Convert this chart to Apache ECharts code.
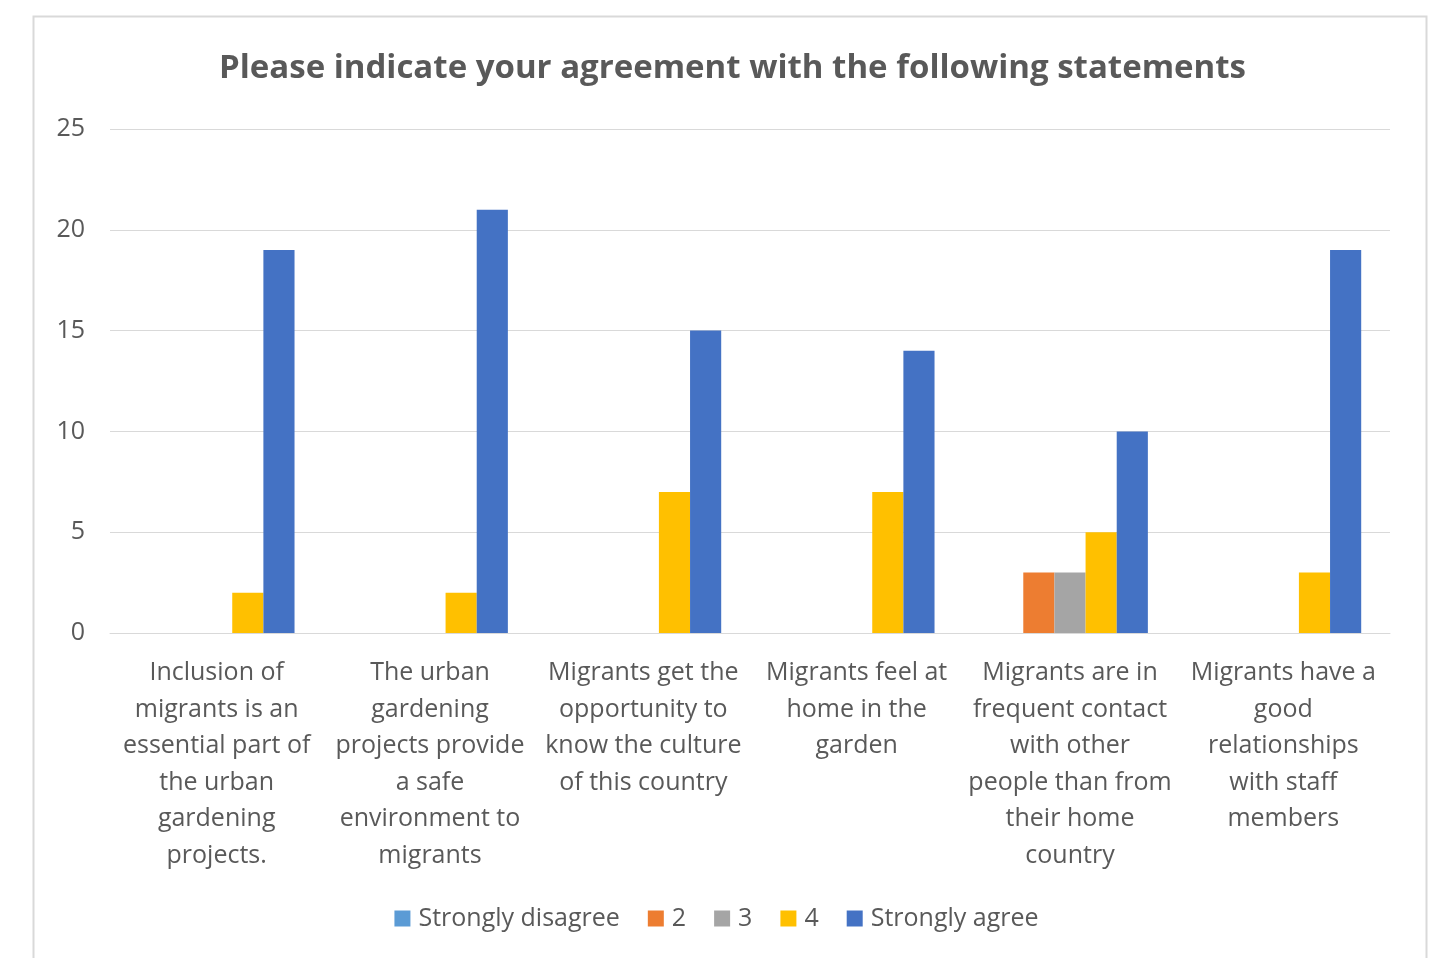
<!DOCTYPE html>
<html><head><meta charset="utf-8">
<script src="https://cdn.jsdelivr.net/npm/echarts@6/dist/echarts.min.js"></script>
<style>html,body{margin:0;padding:0;background:#fff}#c{width:1433px;height:958px}</style>
</head><body><div id="c"></div>
<script>
const categories = [
  "Inclusion of\nmigrants is an\nessential part of\nthe urban\ngardening\nprojects.",
  "The urban\ngardening\nprojects provide\na safe\nenvironment to\nmigrants",
  "Migrants get the\nopportunity to\nknow the culture\nof this country",
  "Migrants feel at\nhome in the\ngarden",
  "Migrants are in\nfrequent contact\nwith other\npeople than from\ntheir home\ncountry",
  "Migrants have a\ngood\nrelationships\nwith staff\nmembers"
];
const seriesNames = ["Strongly disagree", "2", "3", "4", "Strongly agree"];
const stronglyDisagree = [0, 0, 0, 0, 0, 0];
const v2 = [0, 0, 0, 0, 3, 0];
const v3 = [0, 0, 0, 0, 3, 0];
const v4 = [2, 2, 7, 7, 5, 3];
const stronglyAgree = [19, 21, 15, 14, 10, 19];
const colors = ["#5B9BD5", "#ED7D31", "#A5A5A5", "#FFC000", "#4472C4"];
const allData = [stronglyDisagree, v2, v3, v4, stronglyAgree];

const font = "'Open Sans', 'Noto Sans', sans-serif";
const chart = echarts.init(document.getElementById('c'));
chart.setOption({
  backgroundColor: '#fff',
  animation: false,
  color: colors,
  graphic: [{
    type: 'rect', left: 31, top: 14,
    shape: { width: 1393, height: 960 },
    style: { fill: 'none', stroke: '#D9D9D9', lineWidth: 2 }
  }],
  title: {
    text: 'Please indicate your agreement with the following statements',
    left: 214, top: 47,
    textStyle: { fontFamily: font, fontWeight: 'bold', fontSize: 33, color: '#595959' }
  },
  grid: { left: 110, right: 43, top: 129, bottom: 325, containLabel: false },
  xAxis: {
    type: 'category', data: categories,
    axisLine: { lineStyle: { color: '#D9D9D9', width: 1 } },
    axisTick: { show: false },
    axisLabel: { fontFamily: font, fontSize: 25, color: '#595959', lineHeight: 36.5, interval: 0, margin: 22 }
  },
  yAxis: {
    type: 'value', min: 0, max: 25, interval: 5,
    axisLine: { show: false }, axisTick: { show: false },
    splitLine: { lineStyle: { color: '#D9D9D9', width: 1 } },
    axisLabel: { fontFamily: font, fontSize: 25, color: '#595959', margin: 25 }
  },
  legend: {
    bottom: 22, left: 'center',
    itemWidth: 16, itemHeight: 16, itemGap: 28,
    icon: 'rect',
    textStyle: { fontFamily: font, fontSize: 25, color: '#595959', padding: [0, 0, 0, 3] },
    data: seriesNames
  },
  series: seriesNames.map((n, i) => ({
    name: n, type: 'bar', data: allData[i],
    barGap: '0%', barCategoryGap: '27%',
    itemStyle: { color: colors[i] }
  }))
});
</script></body></html>
